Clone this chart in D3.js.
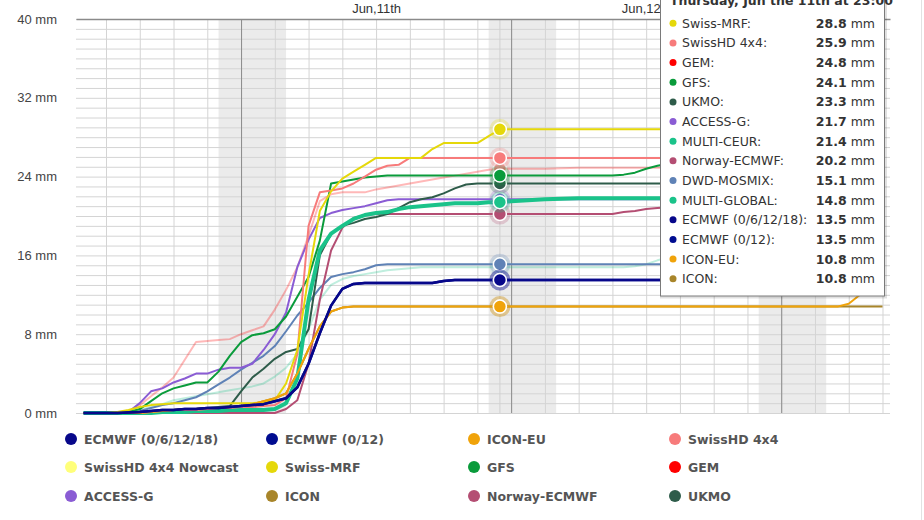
<!DOCTYPE html>
<html>
<head>
<meta charset="utf-8">
<script src="https://cdn.jsdelivr.net/npm/d3@7"></script>
<style>
  body { margin: 0; background: #fff; }
  svg { display: block; }
</style>
</head>
<body>
<svg id="chart" width="924" height="520"></svg>
<script>
// hours relative to Jun 11th 00:00 (hourly, then sparser once the rain stops)
var hours = [-14, -13, -12, -11, -10, -9, -8, -7, -6, -5, -4, -3, -2, -1,
  0, 1, 2, 3, 4, 5, 6, 7, 8, 9, 10, 11, 12,
  13, 14, 15, 16, 17, 18, 19, 20, 21, 22, 23, 24,
  27, 30, 33, 34, 35, 36, 37, 38, 42, 48, 53, 54, 55, 56, 57];

var swissMrf = [0, 0, 0, 0.1, 0.3, 0.6, 0.8, 0.9, 1.0, 1.0, 1.0, 1.0, 1.0, 1.0,
  1.0, 1.0, 1.1, 1.3, 3.0, 6.4, 14.0, 20.5, 22.5, 23.8, 24.5, 25.2, 25.9,
  25.9, 25.9, 25.9, 25.9, 26.8, 27.4, 27.4, 27.4, 27.4, 28.1, 28.8, 28.8,
  28.8, 28.8, 28.8, 28.8, 28.8, 28.8, 28.8, 28.8, 28.8, 28.8, 28.8, 28.8, 28.8, 28.8, 28.8];
var swissHd = [0, 0, 0, 0, 0, 0, 0.1, 0.2, 0.3, 0.3, 0.3, 0.4, 0.5, 0.5,
  0.6, 0.6, 0.7, 0.8, 1.5, 6.0, 19.0, 22.4, 22.6, 22.8, 23.3, 24.0, 24.7,
  25.1, 25.2, 25.9, 25.9, 25.9, 25.9, 25.9, 25.9, 25.9, 25.9, 25.9, 25.9,
  25.9, 25.9, 25.9, 25.9, 25.9, 25.9, 25.9, 25.9, 25.9, 25.9, 25.9, 25.9, 25.9, 25.9, 25.9];
var gem = [0, 0, 0, 0, 0.2, 0.8, 1.7, 2.6, 3.6, 5.4, 7.2, 7.3, 7.4, 7.5,
  8.0, 8.4, 8.8, 10.5, 12.5, 14.8, 18.0, 21.5, 22.2, 22.4, 22.4, 22.4, 22.7,
  22.9, 23.1, 23.3, 23.5, 23.7, 23.9, 24.1, 24.3, 24.5, 24.7, 24.8, 24.8,
  24.8, 24.9, 24.9, 24.9, 24.9, 24.9, 24.9, 24.9, 25.0, 25.0, 25.0, 25.0, 25.0, 25.0, 25.0];
var gfs = [0, 0, 0, 0, 0.1, 0.4, 1.2, 2.0, 2.5, 2.8, 3.1, 3.1, 4.2, 5.8,
  7.2, 7.9, 8.1, 8.5, 9.8, 11.8, 13.8, 17.5, 23.3, 23.5, 23.7, 23.9, 24.0,
  24.1, 24.1, 24.1, 24.1, 24.1, 24.1, 24.1, 24.1, 24.1, 24.1, 24.1, 24.1,
  24.1, 24.1, 24.1, 24.2, 24.4, 24.8, 25.1, 25.3, 25.5, 25.6, 25.6, 25.6, 25.6, 25.6, 25.6];
var ukmo = [0, 0, 0, 0, 0, 0, 0.1, 0.2, 0.3, 0.3, 0.4, 0.5, 0.6, 0.7,
  2.2, 3.6, 4.5, 5.5, 6.2, 6.5, 8.5, 16.0, 18.2, 19.0, 19.3, 19.7, 19.9,
  20.2, 20.8, 21.4, 21.7, 21.9, 22.3, 22.8, 23.2, 23.3, 23.3, 23.3, 23.3,
  23.3, 23.3, 23.3, 23.3, 23.3, 23.3, 23.3, 23.3, 23.3, 23.3, 23.3, 23.3, 23.3, 23.3, 23.3];
var accessG = [0, 0, 0, 0, 0.1, 1.0, 2.2, 2.5, 3.1, 3.5, 4.0, 4.0, 4.4, 4.6,
  4.6, 5.0, 6.4, 8.0, 10.2, 14.8, 17.6, 19.8, 20.3, 20.6, 20.8, 21.0, 21.3,
  21.6, 21.7, 21.7, 21.7, 21.7, 21.7, 21.7, 21.7, 21.7, 21.7, 21.7, 21.7,
  21.7, 21.7, 21.7, 21.7, 21.7, 21.7, 21.7, 21.7, 21.7, 21.7, 21.7, 21.7, 21.7, 21.7, 21.7];
var multiCeur = [0, 0, 0, 0, 0, 0, 0, 0.1, 0.1, 0.1, 0.2, 0.2, 0.2, 0.3,
  0.3, 0.3, 0.3, 0.4, 1.0, 3.5, 11.5, 16.5, 18.2, 19.0, 19.7, 20.1, 20.3,
  20.4, 20.7, 20.9, 21.0, 21.1, 21.2, 21.3, 21.3, 21.3, 21.4, 21.4, 21.5,
  21.7, 21.8, 21.8, 21.8, 21.8, 21.8, 21.8, 21.8, 21.8, 21.8, 21.8, 21.8, 21.8, 21.8, 21.8];
var norway = [0, 0, 0, 0, 0, 0, 0, 0, 0, 0, 0, 0, 0, 0,
  0, 0, 0, 0, 0.4, 1.3, 5.0, 11.5, 16.5, 18.8, 19.8, 20.1, 20.2,
  20.2, 20.2, 20.2, 20.2, 20.2, 20.2, 20.2, 20.2, 20.2, 20.2, 20.2, 20.2,
  20.2, 20.2, 20.2, 20.4, 20.5, 20.7, 20.8, 20.9, 21.0, 21.0, 21.0, 21.0, 21.0, 21.0, 21.0];
var dwdMosmix = [0, 0, 0, 0, 0.05, 0.2, 0.5, 0.8, 1.0, 1.3, 1.6, 2.2, 2.9, 3.6,
  4.4, 5.1, 5.8, 6.8, 8.3, 9.9, 11.2, 12.7, 13.8, 14.1, 14.3, 14.6, 15.0,
  15.1, 15.1, 15.1, 15.1, 15.1, 15.1, 15.1, 15.1, 15.1, 15.1, 15.1, 15.1,
  15.1, 15.1, 15.1, 15.1, 15.1, 15.1, 15.1, 15.1, 15.1, 15.1, 15.1, 15.1, 15.1, 15.1, 15.1];
var multiGlobal = [0, 0, 0, 0.05, 0.1, 0.3, 0.6, 0.9, 1.3, 1.5, 1.7, 1.9, 2.1, 2.3,
  2.5, 2.7, 3.0, 3.7, 4.6, 6.0, 8.5, 11.5, 13.0, 13.6, 13.9, 14.1, 14.3,
  14.5, 14.6, 14.7, 14.8, 14.8, 14.8, 14.8, 14.8, 14.8, 14.8, 14.8, 14.8,
  14.8, 14.8, 14.8, 14.8, 14.9, 15.1, 15.5, 15.8, 16.0, 16.0, 16.0, 16.0, 16.0, 16.0, 16.0];
var ecmwf4x = [0, 0, 0, 0, 0.05, 0.1, 0.2, 0.3, 0.3, 0.4, 0.4, 0.5, 0.5, 0.6,
  0.7, 0.8, 0.9, 1.2, 1.5, 2.6, 5.0, 8.1, 10.9, 12.6, 13.1, 13.2, 13.2,
  13.2, 13.2, 13.2, 13.2, 13.2, 13.4, 13.5, 13.5, 13.5, 13.5, 13.5, 13.5,
  13.5, 13.5, 13.5, 13.5, 13.5, 13.5, 13.5, 13.5, 13.5, 13.5, 13.5, 13.5, 13.5, 13.5, 13.5];
var ecmwf2x = [0, 0, 0, 0, 0.05, 0.1, 0.2, 0.3, 0.3, 0.4, 0.4, 0.5, 0.5, 0.6,
  0.7, 0.8, 0.9, 1.2, 1.5, 2.6, 5.0, 8.1, 10.9, 12.6, 13.1, 13.2, 13.2,
  13.2, 13.2, 13.2, 13.2, 13.2, 13.4, 13.5, 13.5, 13.5, 13.5, 13.5, 13.5,
  13.5, 13.5, 13.5, 13.5, 13.5, 13.5, 13.5, 13.5, 13.5, 13.5, 13.5, 13.5, 13.5, 13.5, 13.5];
var iconEu = [0, 0, 0, 0, 0, 0, 0.1, 0.2, 0.3, 0.4, 0.4, 0.5, 0.5, 0.6,
  0.7, 0.9, 1.2, 1.5, 2.0, 4.0, 6.5, 8.8, 10.3, 10.7, 10.8, 10.8, 10.8,
  10.8, 10.8, 10.8, 10.8, 10.8, 10.8, 10.8, 10.8, 10.8, 10.8, 10.8, 10.8,
  10.8, 10.8, 10.8, 10.8, 10.8, 10.8, 10.8, 10.8, 10.8, 10.8, 10.8, 11.1, 12.0, 12.6, 13.0];
var icon = [0, 0, 0, 0, 0, 0, 0.1, 0.2, 0.3, 0.4, 0.4, 0.5, 0.5, 0.6,
  0.7, 0.9, 1.2, 1.5, 2.0, 4.0, 6.5, 8.8, 10.3, 10.7, 10.8, 10.8, 10.8,
  10.8, 10.8, 10.8, 10.8, 10.8, 10.8, 10.8, 10.8, 10.8, 10.8, 10.8, 10.8,
  10.8, 10.8, 10.8, 10.8, 10.8, 10.8, 10.8, 10.8, 10.8, 10.8, 10.8, 10.8, 10.8, 10.8, 10.8];
var nowcast = [];

// series in legend order, then the ones without a legend entry
var seriesList = [
  { name: "ECMWF (0/6/12/18)", color: "#07078a", values: ecmwf4x, width: 2.5, legend: true },
  { name: "ECMWF (0/12)", color: "#000c90", values: ecmwf2x, width: 2.5, legend: true },
  { name: "ICON-EU", color: "#f0a30a", values: iconEu, width: 2, legend: true },
  { name: "SwissHD 4x4", color: "#f77b7b", values: swissHd, width: 2, legend: true },
  { name: "SwissHD 4x4 Nowcast", color: "#ffff7a", values: nowcast, width: 2, legend: true },
  { name: "Swiss-MRF", color: "#e5d80a", values: swissMrf, width: 2, legend: true },
  { name: "GFS", color: "#0a9b3b", values: gfs, width: 2, legend: true },
  { name: "GEM", color: "#ff0000", values: gem, width: 2, legend: true, faded: true },
  { name: "ACCESS-G", color: "#8a5cd4", values: accessG, width: 2, legend: true },
  { name: "ICON", color: "#a8852a", values: icon, width: 2, legend: true },
  { name: "Norway-ECMWF", color: "#b44e73", values: norway, width: 2, legend: true },
  { name: "UKMO", color: "#2e5c4a", values: ukmo, width: 2, legend: true },
  { name: "MULTI-CEUR", color: "#1ac38a", values: multiCeur, width: 4, legend: false },
  { name: "DWD-MOSMIX", color: "#5f82b6", values: dwdMosmix, width: 2, legend: false },
  { name: "MULTI-GLOBAL", color: "#1ac38a", values: multiGlobal, width: 2, legend: false, faded: true }
];
var drawOrder = ["GEM", "MULTI-GLOBAL", "ICON", "DWD-MOSMIX", "Norway-ECMWF", "ACCESS-G", "UKMO",
  "MULTI-CEUR", "GFS", "SwissHD 4x4", "Swiss-MRF", "ICON-EU", "ECMWF (0/12)", "ECMWF (0/6/12/18)"];

var yTicks = [0, 8, 16, 24, 32, 40];
var dayLabels = [{ h: 12, text: "Jun,11th" }, { h: 36, text: "Jun,12th" }];
var midnights = [0, 24, 48];
var nights = [[-2, 4], [22, 28], [46, 52]];
var hoverHour = 23;
var hoverTitle = "Thursday, Jun the 11th at 23:00";

var svg = d3.select("#chart");
var plotL = 76, plotR = 890, plotT = 19, plotB = 413;

var x = d3.scaleLinear().domain([-14 - 2 / 3, 57 + 2 / 3]).range([plotL, plotR]);
var y = d3.scaleLinear().domain([0, 40]).range([plotB, plotT]);

// night bands
svg.append("g").selectAll("rect").data(nights).enter().append("rect")
  .attr("x", d => x(d[0])).attr("width", d => x(d[1]) - x(d[0]))
  .attr("y", plotT).attr("height", plotB - plotT)
  .attr("fill", "#ebebeb");

// horizontal grid, every mm
svg.append("g")
  .attr("transform", `translate(${plotL},0)`)
  .call(d3.axisLeft(y).ticks(40).tickSize(-(plotR - plotL)).tickFormat(""))
  .call(g => g.select(".domain").remove())
  .call(g => g.selectAll("line").attr("stroke", "#d4d4d4"));

// vertical grid, every 3 hours
svg.append("g")
  .attr("transform", `translate(0,${plotB})`)
  .call(d3.axisBottom(x).tickValues(d3.range(-12, 58, 3)).tickSize(-(plotB - plotT)).tickFormat(""))
  .call(g => g.select(".domain").remove())
  .call(g => g.selectAll("line").attr("stroke", "#d4d4d4"));

// midnight lines
svg.append("g").selectAll("line").data(midnights).enter().append("line")
  .attr("x1", d => x(d) + 0.5).attr("x2", d => x(d) + 0.5)
  .attr("y1", plotT).attr("y2", plotB)
  .attr("stroke", "#8c8c8c");

// hover crosshair
svg.append("line")
  .attr("x1", x(hoverHour)).attr("x2", x(hoverHour))
  .attr("y1", plotT).attr("y2", plotB)
  .attr("stroke", "#d0d0d0");

// top axis with day labels
svg.append("g")
  .attr("transform", `translate(0,${plotT})`)
  .call(d3.axisTop(x).tickValues(dayLabels.map(d => d.h)).tickSize(0).tickPadding(6)
    .tickFormat((d, i) => dayLabels[i].text))
  .call(g => g.select(".domain").attr("stroke", "#8a8a8a").attr("stroke-width", 1.5))
  .call(g => g.selectAll("text").attr("font-family", "Liberation Sans, Arial, sans-serif")
    .attr("font-size", 13).attr("fill", "#333"));

// y labels
svg.append("g")
  .attr("transform", `translate(${plotL},0)`)
  .call(d3.axisLeft(y).tickValues(yTicks).tickSize(0).tickPadding(19).tickFormat(d => d + " mm"))
  .call(g => g.select(".domain").remove())
  .call(g => g.selectAll("text").attr("font-family", "Liberation Sans, Arial, sans-serif")
    .attr("font-size", 13).attr("fill", "#444"));

// lines
var line = d3.line()
  .x((d, i) => x(hours[i]))
  .y(d => y(d));

var byName = {};
seriesList.forEach(s => byName[s.name] = s);
var drawn = drawOrder.map(n => byName[n]).filter(s => s.values.length);

svg.append("g").selectAll("path").data(drawn).enter().append("path")
  .attr("d", d => line(d.values))
  .attr("fill", "none")
  .attr("stroke", d => d.color)
  .attr("stroke-opacity", d => d.faded ? 0.28 : 1)
  .attr("stroke-width", d => d.width)
  .attr("stroke-linejoin", "round");

// hover markers
var hi = hours.indexOf(hoverHour);
var markers = svg.append("g").selectAll("g").data(drawn).enter().append("g")
  .attr("transform", d => `translate(${x(hoverHour)},${y(d.values[hi])})`)
  .attr("opacity", d => d.faded ? 0.3 : 1);
markers.append("circle").attr("r", 10.5).attr("fill", d => d.color).attr("fill-opacity", 0.25);
markers.append("circle").attr("r", 6.5).attr("fill", d => d.color)
  .attr("stroke", "#fff").attr("stroke-width", 1.5);

// tooltip
var tipRows = seriesList.filter(s => s.values.length)
  .slice().sort((a, b) => b.values[hi] - a.values[hi]);
var tip = svg.append("g");
tip.append("rect")
  .attr("x", 661.5).attr("y", -20).attr("width", 224).attr("height", 317)
  .attr("fill", "none").attr("stroke", "#000").attr("stroke-opacity", 0.12).attr("stroke-width", 3);
tip.append("rect")
  .attr("x", 660.5).attr("y", -20).attr("width", 224).attr("height", 316)
  .attr("fill", "#fff").attr("stroke", "#7a7a7a").attr("stroke-width", 1);
tip.append("text")
  .attr("x", 670).attr("y", 4.5)
  .attr("font-family", "DejaVu Sans, sans-serif").attr("font-size", 12.5).attr("font-weight", "bold")
  .attr("fill", "#333").text(hoverTitle);
var rows = tip.selectAll("g.row").data(tipRows).enter().append("g")
  .attr("class", "row")
  .attr("transform", (d, i) => `translate(0,${23.3 + i * 19.65})`);
rows.append("circle").attr("cx", 673).attr("cy", 0).attr("r", 3.5)
  .attr("fill", d => d.color);
rows.append("text").attr("x", 682).attr("y", 4.5)
  .attr("font-family", "DejaVu Sans, sans-serif").attr("font-size", 12.5).attr("fill", "#333")
  .text(d => d.name + ":");
var vt = rows.append("text").attr("x", 875).attr("y", 4.5).attr("text-anchor", "end")
  .attr("font-family", "DejaVu Sans, sans-serif").attr("font-size", 12.5).attr("fill", "#333");
vt.append("tspan").attr("font-weight", "bold").text(d => d.values[hi].toFixed(1));
vt.append("tspan").text(" mm");

// legend
var legendItems = seriesList.filter(s => s.legend);
var legendCols = [71, 272, 474, 675];
var legendRows = [439, 467, 496];
var lg = svg.append("g").selectAll("g").data(legendItems).enter().append("g")
  .attr("transform", (d, i) => `translate(${legendCols[i % 4]},${legendRows[Math.floor(i / 4)]})`);
lg.append("circle").attr("r", 6).attr("fill", d => d.color);
lg.append("text").attr("x", 13).attr("y", 4.5)
  .attr("font-family", "DejaVu Sans, sans-serif").attr("font-size", 12.5).attr("font-weight", "bold")
  .attr("fill", "#555").text(d => d.name);

// right page border
svg.append("line").attr("x1", 921.5).attr("x2", 921.5).attr("y1", 0).attr("y2", 520)
  .attr("stroke", "#e2e2e2");
</script>
</body>
</html>
